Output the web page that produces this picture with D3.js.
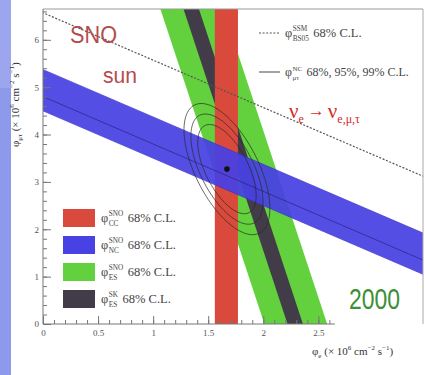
<!DOCTYPE html>
<html><head><meta charset="utf-8">
<script src="https://cdn.jsdelivr.net/npm/d3@7"></script>
<style>body{margin:0;background:#fff}svg{display:block}</style>
</head><body><svg id="c" width="425" height="375"></svg>
<script>
// ---- data ----
const xTicks = [0, 0.5, 1, 1.5, 2, 2.5];
const xTickLabels = ["0", "0.5", "1", "1.5", "2", "2.5"];
const yTicks = [0, 1, 2, 3, 4, 5, 6];
const yTickLabels = ["0", "1", "2", "3", "4", "5", "6"];
const ccBand = [1.56, 1.77];          // phi_e range (SNO CC)
const ncBand = [4.50, 5.37];          // phi_e + phi_mutau (SNO NC)
const ncCentral = 4.80;
const esSlope = 0.142;                // phi_e + k*phi_mutau
const esSnoBand = [2.01, 2.58];
const esSkBand = [2.22, 2.36];
const ssmTotal = 6.57;                // SSM dotted line
const bestFit = [1.67, 3.27];
const contourLevels = ["68%", "95%", "99%"];
const contourSize = [0.68, 0.84, 1.0];
const contourMajor = [0.295, -1.352];
const contourMinor = [0.255, 0.30];
const legendSup = ["SNO", "SNO", "SNO", "SK"];
const legendSub = ["CC", "NC", "ES", "ES"];
const legendText = ["68% C.L.", "68% C.L.", "68% C.L.", "68% C.L."];

// ---- styles ----
const colCC = "#d94a3d", colNC = "#4841e4", colES = "#63d13e", colSK = "#423c48";
const legendColors = [colCC, colNC, colES, colSK];
const serif = "'Liberation Serif','DejaVu Serif',serif";
const sans = "'Liberation Sans','DejaVu Sans',sans-serif";

const svg = d3.select("#c");
// left strip
svg.append("rect").attr("x",0).attr("y",0).attr("width",11).attr("height",88).attr("fill","#9ba6ef");
svg.append("rect").attr("x",0).attr("y",88).attr("width",11).attr("height",287).attr("fill","#8d99ea");

const x = d3.scaleLinear().domain([0, 3.45]).range([43, 423]);
const y = d3.scaleLinear().domain([0, 6.65]).range([324, 9]);

svg.append("defs").append("clipPath").attr("id","clip").append("rect")
  .attr("x", x(0)).attr("y", y(6.65)).attr("width", x(3.45)-x(0)).attr("height", y(0)-y(6.65));

const line = d3.line().x(d => x(d[0])).y(d => y(d[1]));
const g = svg.append("g").attr("clip-path","url(#clip)");

function esPoly(c1, c2){ return [[c1+esSlope,-1],[c1-esSlope*8,8],[c2-esSlope*8,8],[c2+esSlope,-1]]; }
function ncPoly(s1, s2){ return [[-1,s1+1],[5,s1-5],[5,s2-5],[-1,s2+1]]; }
function ccPoly(c1, c2){ return [[c1,-1],[c1,8],[c2,8],[c2,-1]]; }

g.append("path").attr("d", line(esPoly(esSnoBand[0], esSnoBand[1])) + "Z").attr("fill", colES);
g.append("path").attr("d", line(esPoly(esSkBand[0], esSkBand[1])) + "Z").attr("fill", colSK);
g.append("path").attr("d", line(ccPoly(ccBand[0], ccBand[1])) + "Z").attr("fill", colCC);
g.append("path").attr("d", line(ncPoly(ncBand[0], ncBand[1])) + "Z").attr("fill", colNC)
  .attr("opacity", 0.93).attr("stroke", "#3b33c8").attr("stroke-width", 0.8);
g.append("path").attr("d", line([[-1, ncCentral+1],[5, ncCentral-5]]))
  .attr("stroke", "#221d6e").attr("stroke-width", 1).attr("opacity", 0.6).attr("fill","none");
g.append("path").attr("d", line([[-1, ssmTotal+1],[5, ssmTotal-5]]))
  .attr("stroke", "#555").attr("stroke-width", 1.2).attr("stroke-dasharray","2,1.6").attr("fill","none");

// contours
contourLevels.forEach((lv, i) => {
  const s = contourSize[i];
  const pts = d3.range(0, 2*Math.PI + 0.01, Math.PI/60).map(t => [
    bestFit[0] + s*(contourMajor[0]*Math.cos(t) + contourMinor[0]*Math.sin(t)),
    bestFit[1] + s*(contourMajor[1]*Math.cos(t) + contourMinor[1]*Math.sin(t))
  ]);
  g.append("path").attr("d", line(pts) + "Z").attr("fill","none")
    .attr("stroke", "#2a2a2a").attr("stroke-width", 1).attr("opacity", 0.7);
});
g.append("circle").attr("cx", x(bestFit[0])).attr("cy", y(bestFit[1])).attr("r", 2.8).attr("fill", "#111");

// frame
svg.append("line").attr("x1", x(0)).attr("x2", x(3.45)).attr("y1", y(6.65)).attr("y2", y(6.65)).attr("stroke","#999");
svg.append("line").attr("x1", x(3.45)).attr("x2", x(3.45)).attr("y1", y(6.65)).attr("y2", y(0)).attr("stroke","#aaa");

// axes
const xMinor = d3.range(0, 2.61, 0.1);
const yMinor = d3.range(0, 6.61, 0.2);
const xa = svg.append("g").attr("transform", `translate(0,${y(0)})`)
  .call(d3.axisBottom(x).tickValues(xTicks).tickFormat((d,i)=>xTickLabels[i]).tickSize(-8).tickPadding(6).tickSizeOuter(0));
xa.select(".domain").remove();
svg.append("g").attr("transform", `translate(0,${y(0)})`)
  .call(d3.axisBottom(x).tickValues(xMinor).tickFormat("").tickSize(-4).tickSizeOuter(0))
  .select(".domain").remove();
svg.append("line").attr("x1", x(0)).attr("x2", x(2.65)).attr("y1", y(0)).attr("y2", y(0)).attr("stroke","#777");
const ya = svg.append("g").attr("transform", `translate(${x(0)},0)`)
  .call(d3.axisLeft(y).tickValues(yTicks).tickFormat((d,i)=>yTickLabels[i]).tickSize(-8).tickPadding(4).tickSizeOuter(0));
ya.select(".domain").remove();
svg.append("g").attr("transform", `translate(${x(0)},0)`)
  .call(d3.axisLeft(y).tickValues(yMinor).tickFormat("").tickSize(-4).tickSizeOuter(0))
  .select(".domain").remove();
svg.append("line").attr("x1", x(0)).attr("x2", x(0)).attr("y1", y(0)).attr("y2", y(6.65)).attr("stroke","#777");
svg.selectAll(".tick line").attr("stroke","#777");
svg.selectAll(".tick text").attr("font-family", serif).attr("font-size", 9).attr("fill","#555");

// phi label helper
function phiLabel(parent, px, py, sup, sub, rest, size, color){
  const t = parent.append("text").attr("x", px).attr("y", py).attr("font-family", serif)
    .attr("font-size", size).attr("fill", color).text("\u03c6");
  const w0 = t.node().getComputedTextLength();
  const ss = size*0.58;
  let w1 = 0, w2 = 0;
  if (sup){ const a = parent.append("text").attr("x", px+w0+0.5).attr("y", py-size*0.45).attr("font-family", serif)
      .attr("font-size", ss).attr("fill", color).text(sup); w1 = a.node().getComputedTextLength(); }
  if (sub){ const b = parent.append("text").attr("x", px+w0+0.5).attr("y", py+size*0.3).attr("font-family", serif)
      .attr("font-size", ss).attr("fill", color).text(sub); w2 = b.node().getComputedTextLength(); }
  const r = parent.append("text").attr("x", px+w0+Math.max(w1,w2)+size*0.4).attr("y", py)
    .attr("font-family", serif).attr("font-size", size).attr("fill", color).text(rest);
  return r;
}

// bottom-left legend
legendSup.forEach((s, i) => {
  const by = 209 + i*27;
  svg.append("rect").attr("x", 63).attr("y", by).attr("width", 32).attr("height", 18).attr("fill", legendColors[i]);
  phiLabel(svg, 101, by+13, s, legendSub[i], legendText[i], 12.5, "#444");
});

// top-right legend
svg.append("line").attr("x1", 259).attr("x2", 280).attr("y1", 33).attr("y2", 33)
  .attr("stroke","#555").attr("stroke-width",1.2).attr("stroke-dasharray","2,1.6");
phiLabel(svg, 285, 37, "SSM", "BS05", "68% C.L.", 12.5, "#444");
svg.append("line").attr("x1", 259).attr("x2", 280).attr("y1", 72).attr("y2", 72)
  .attr("stroke","#666").attr("stroke-width",1.2);
phiLabel(svg, 285, 76, "NC", "\u03bc\u03c4", "68%, 95%, 99% C.L.", 12, "#444");

// annotations
svg.append("text").attr("x", 70).attr("y", 43).attr("font-family", sans).attr("font-size", 24)
  .attr("textLength", 47).attr("lengthAdjust","spacingAndGlyphs").attr("fill", "#b34b4e").text("SNO");
svg.append("text").attr("x", 103).attr("y", 83).attr("font-family", sans).attr("font-size", 22)
  .attr("textLength", 34).attr("lengthAdjust","spacingAndGlyphs").attr("fill", "#b34b4e").text("sun");
svg.append("text").attr("x", 349).attr("y", 309).attr("font-family", sans).attr("font-size", 30)
  .attr("textLength", 51).attr("lengthAdjust","spacingAndGlyphs").attr("fill", "#3d8f35").text("2000");

const nu = svg.append("text").attr("x", 289).attr("y", 118).attr("font-family", serif).attr("font-size", 21).attr("fill", "#d42a2a");
nu.append("tspan").text("\u03bd");
nu.append("tspan").attr("font-size", 12).attr("dy", 5).text("e");
nu.append("tspan").attr("dy", -7).attr("dx", 4).attr("font-size", 17).text("\u2192");
nu.append("tspan").attr("dy", 2).attr("dx", 3).text("\u03bd");
nu.append("tspan").attr("font-size", 12).attr("dy", 5).text("e,\u03bc,\u03c4");

// axis titles
const xt = svg.append("text").attr("x", 312).attr("y", 355).attr("font-family", serif).attr("font-size", 11).attr("fill", "#333");
xt.append("tspan").text("\u03c6");
xt.append("tspan").attr("font-size", 7).attr("dy", 3).text("e");
xt.append("tspan").attr("dy", -3).text(" (\u00d7 10");
xt.append("tspan").attr("font-size", 7).attr("dy", -5).text("6");
xt.append("tspan").attr("dy", 5).text(" cm");
xt.append("tspan").attr("font-size", 7).attr("dy", -5).text("\u22122");
xt.append("tspan").attr("dy", 5).text(" s");
xt.append("tspan").attr("font-size", 7).attr("dy", -5).text("\u22121");
xt.append("tspan").attr("dy", 5).text(")");

const yt = svg.append("text").attr("transform", "translate(19,147) rotate(-90)").attr("font-family", serif)
  .attr("font-size", 11).attr("fill", "#333");
yt.append("tspan").text("\u03c6");
yt.append("tspan").attr("font-size", 7).attr("dy", 3).text("\u03bc\u03c4");
yt.append("tspan").attr("dy", -3).text(" (\u00d7 10");
yt.append("tspan").attr("font-size", 7).attr("dy", -5).text("6");
yt.append("tspan").attr("dy", 5).text(" cm");
yt.append("tspan").attr("font-size", 7).attr("dy", -5).text("\u22122");
yt.append("tspan").attr("dy", 5).text(" s");
yt.append("tspan").attr("font-size", 7).attr("dy", -5).text("\u22121");
yt.append("tspan").attr("dy", 5).text(")");
</script></body></html>
